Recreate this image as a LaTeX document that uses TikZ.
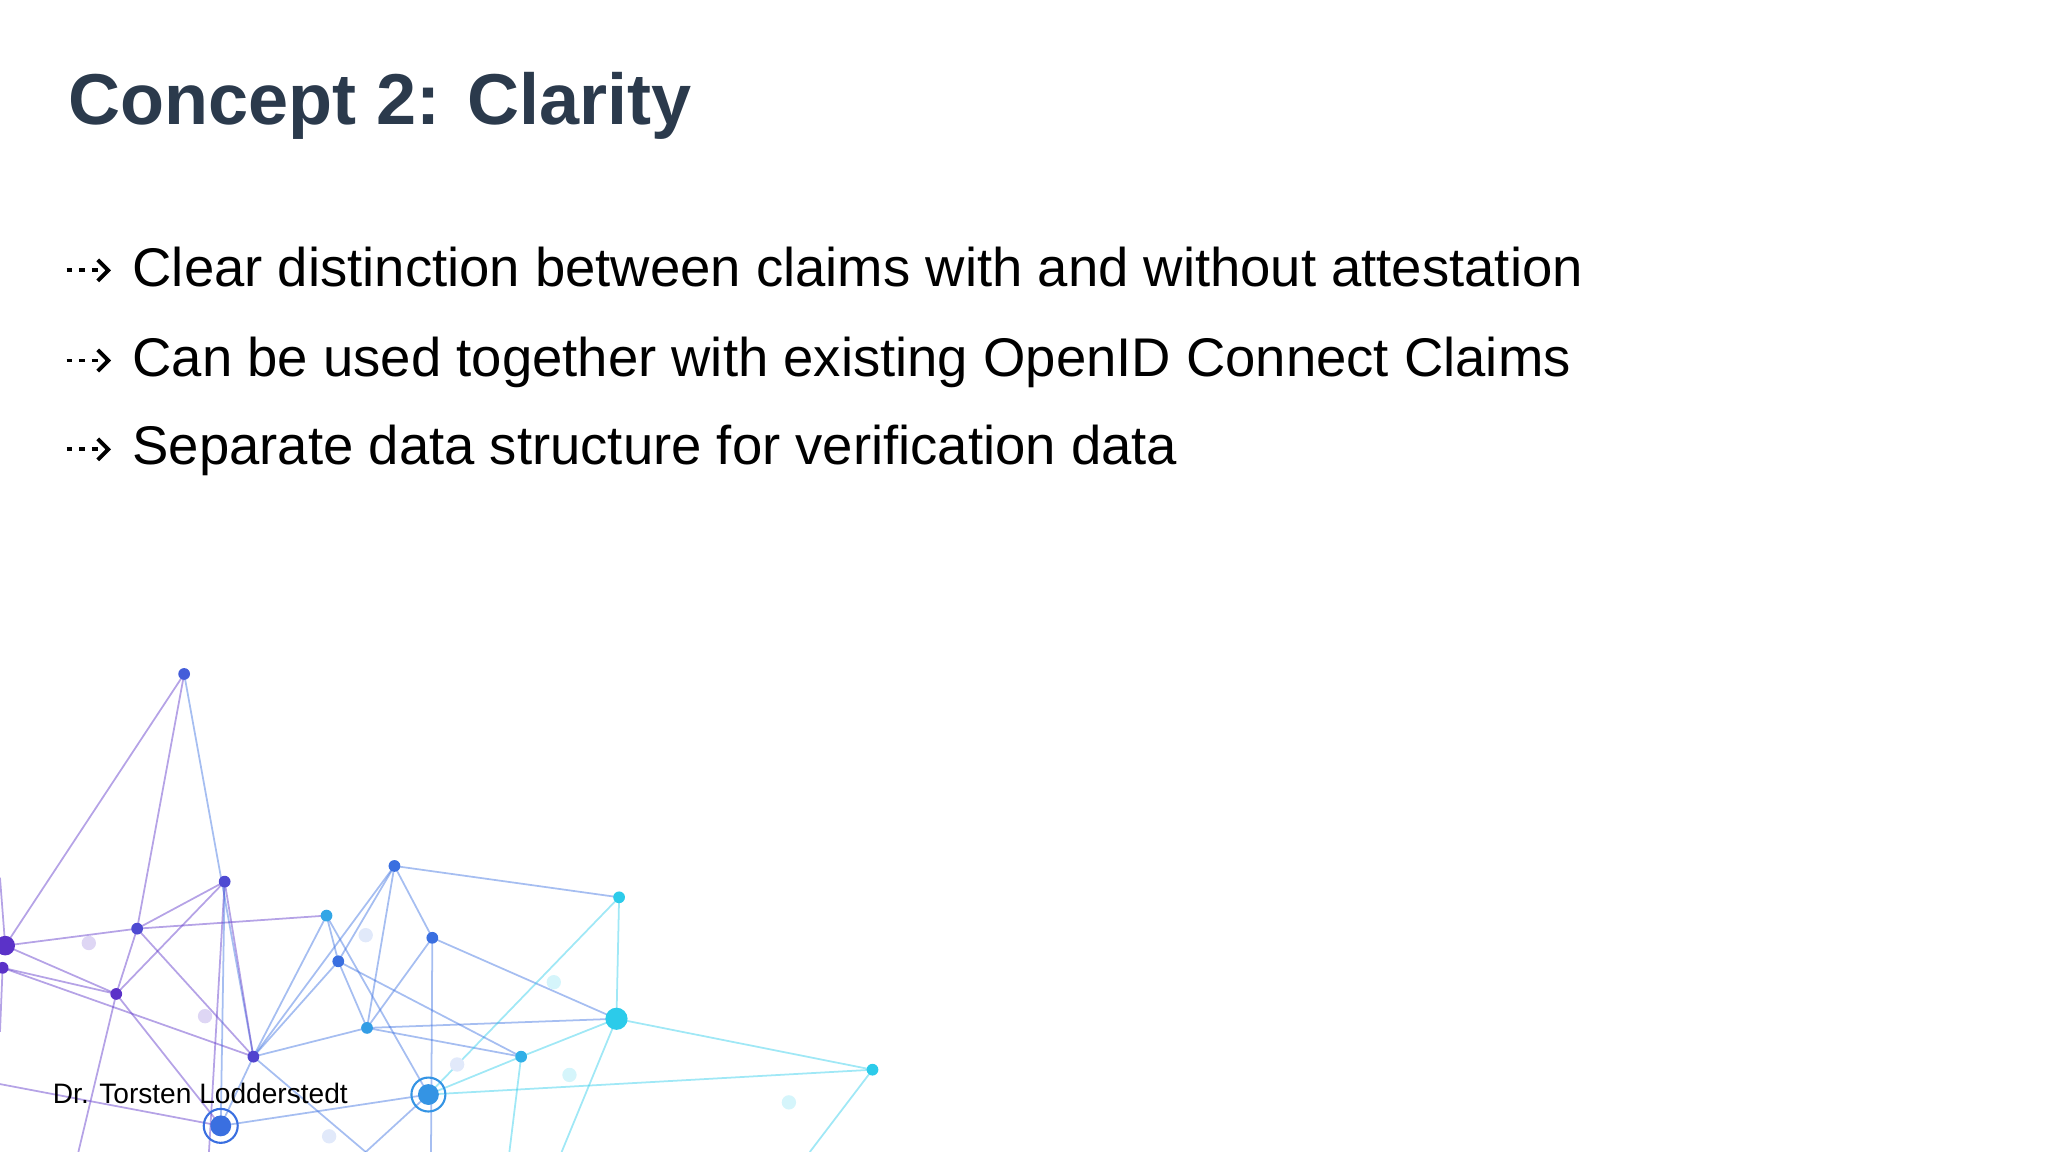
\documentclass[tikz,border=0pt]{standalone}
\usetikzlibrary{arrows.meta}
\usepackage{fontspec}
\setmainfont{Liberation Sans}
\definecolor{titlec}{HTML}{2B3A4C}
\definecolor{pur}{HTML}{5B32C8}
\definecolor{blu}{HTML}{3A6FE0}
\definecolor{cya}{HTML}{2CCBEA}
\begin{document}
\begin{tikzpicture}[x=0.013061cm,y=-0.013061cm,
  bul/.style={anchor=base west,font=\fontsize{15.5}{18}\selectfont,text=black,inner sep=0},
  edge/.style={line width=0.5pt,opacity=0.45},
  dotn/.style={circle,inner sep=0,minimum size=#1}]
\useasboundingbox (0,0) rectangle (1568,882);
\node[anchor=base west,inner sep=0,text=titlec,font=\fontsize{20.5}{24}\selectfont\bfseries] (title) at (52,95) {Concept 2: Clarity};
\foreach \y/\t [count=\i] in {219/Clear distinction between claims with and without attestation,288/Can be used together with existing OpenID Connect Claims,356/Separate data structure for verification data}{
  \node[bul] (b\i) at (101,\y) {\t};
  \coordinate (s\i) at (51,\y-12);
  \coordinate (e\i) at (85,\y-12);
  \draw[line width=1.1pt,dash pattern=on 1.6pt off 2pt,-{Straight Barb[length=3pt,width=6pt]}] (s\i) -- (e\i);
}
% network
\foreach \n/\x/\y in {A/141/516,B/4/724,C/2/741,D/105/711,E/172/675,F/89/761,G/250/701,H/302/663,I/259/736,J/331/718,K/281/787,L/194/809,M/474/687,N/472/780,O/399/809,P/668/819,Q/328/838,R/169/862,
 f1/68/722,f2/157/778,f3/280/716,f4/424/752,f5/436/823,f6/350/815,f7/604/844,f8/252/870,
 z1/0/672,z2/0/790,z3/160/882,z4/60/882,z5/330/882,z6/430/882,z7/620/882,z8/390/882,z9/0/830,z10/280/882}
  {\coordinate (\n) at (\x,\y);}
\foreach \a/\b/\c in {A/B/pur,A/L/blu,A/D/pur,D/B/pur,D/E/pur,D/G/pur,D/F/pur,D/L/pur,E/F/pur,E/L/pur,E/z3/pur,E/R/blu,B/F/pur,C/F/pur,F/z4/pur,B/z1/pur,C/z2/pur,G/I/blu,G/L/blu,H/I/blu,H/J/blu,H/K/blu,H/M/blu,H/L/blu,I/K/blu,I/L/blu,J/K/blu,J/N/blu,J/z5/blu,K/O/blu,K/N/blu,L/R/blu,L/K/blu,L/z10/blu,M/N/cya,M/Q/cya,N/P/cya,N/O/cya,N/z6/cya,O/Q/cya,O/z8/cya,P/Q/cya,P/z7/cya,Q/R/blu,Q/z10/blu,F/R/pur,z9/R/pur,C/L/pur,G/Q/blu,I/O/blu}
  {\draw[edge,draw=\c] (\a) -- (\b);}
\foreach \n/\s/\c in {A/9/blu!70!pur,B/15/pur,C/9/pur,D/9/blu!40!pur,E/9/blu!40!pur,F/9/pur,G/9/blu!40!cya,H/9/blu,I/9/blu,J/9/blu,K/9/blu!50!cya,L/9/blu!30!pur,M/9/cya,N/17/cya,O/9/cya!70!blu,P/9/cya,Q/16/blu!60!cya,R/16/blu,f1/11/pur!20,f2/11/pur!20,f3/11/blu!15,f4/11/cya!20,f5/11/cya!20,f6/11/blu!15,f7/11/cya!20,f8/11/blu!15}
  {\node[dotn=\s*0.013061cm,fill=\c] (n\n) at (\n) {};}
\draw[blu!60!cya,line width=0.6pt] (Q) circle (13);
\draw[blu,line width=0.6pt] (R) circle (13);
\node[anchor=base west,inner sep=0,font=\fontsize{8}{10}\selectfont] (foot) at (40,845) {Dr. Torsten Lodderstedt};
\end{tikzpicture}
\end{document}
